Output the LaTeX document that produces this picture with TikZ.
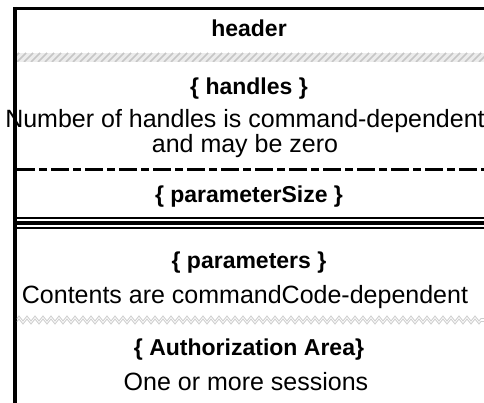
\documentclass[tikz,border=0pt]{standalone}
\usepackage{fontspec}
\setmainfont{Liberation Sans}
\usetikzlibrary{positioning, decorations.pathmorphing}

\begin{document}
\begin{tikzpicture}[
                x=1pt, y=-1pt,
                field/.style={font=\fontsize{23}{25}\selectfont\bfseries, inner sep=1pt},
                note/.style={font=\fontsize{25}{25}\selectfont, align=center, inner sep=1pt},
                rule/.style={draw, line width=3pt},
                hatch/.style={draw=gray!45, line width=1.6pt},
                zig/.style={draw=gray!40, line width=0.8pt, decorate, decoration={zigzag, segment length=8pt, amplitude=2.5pt}}
            ]
                \useasboundingbox (0,0) rectangle (484,403);

                % frame: top edge and left bar
                \path[rule] (13,8.5) -- (484,8.5);
                \path[draw, line width=4pt] (15,7) -- (15,403);

                % header / handles separator (hatched band)
                \begin{scope}
                    \clip (17,53) rectangle (484,62);
                    \fill[gray!15] (17,53) rectangle (484,62);
                    \foreach \x in {10,17,...,490}
                        \path[hatch] (\x,62) -- (\x+9,53);
                \end{scope}

                % handles / parameterSize separator
                \path[rule, dash pattern=on 18pt off 4pt on 8pt off 4pt] (17,170) -- (484,170);

                % parameterSize / parameters separator
                \path[draw, line width=2pt] (17,218) -- (484,218);
                \path[draw, line width=4pt] (17,223) -- (484,223);
                \path[draw, line width=2pt] (17,228) -- (484,228);

                % parameters / authorization separator
                \path[zig] (17,318.5) -- (484,318.5);
                \path[zig] (17,321.5) -- (484,321.5);

                % fields
                \node[field] (hdr) at (249,28) {header};
                \node[field] (hnd) at (249,89) {\{ handles \}};
                \node[note] (hndnote) at (245,134) {Number of handles is command-dependent\\and may be zero};
                \node[field] (psize) at (249,197) {\{ parameterSize \}};
                \node[field] (par) at (249,263) {\{ parameters \}};
                \node[note] (parnote) at (245,297) {Contents are commandCode-dependent};
                \node[field] (auth) at (249,350) {\{ Authorization Area\}};
                \node[note] (authnote) at (246,382) {One or more sessions};
            \end{tikzpicture}
\end{document}
